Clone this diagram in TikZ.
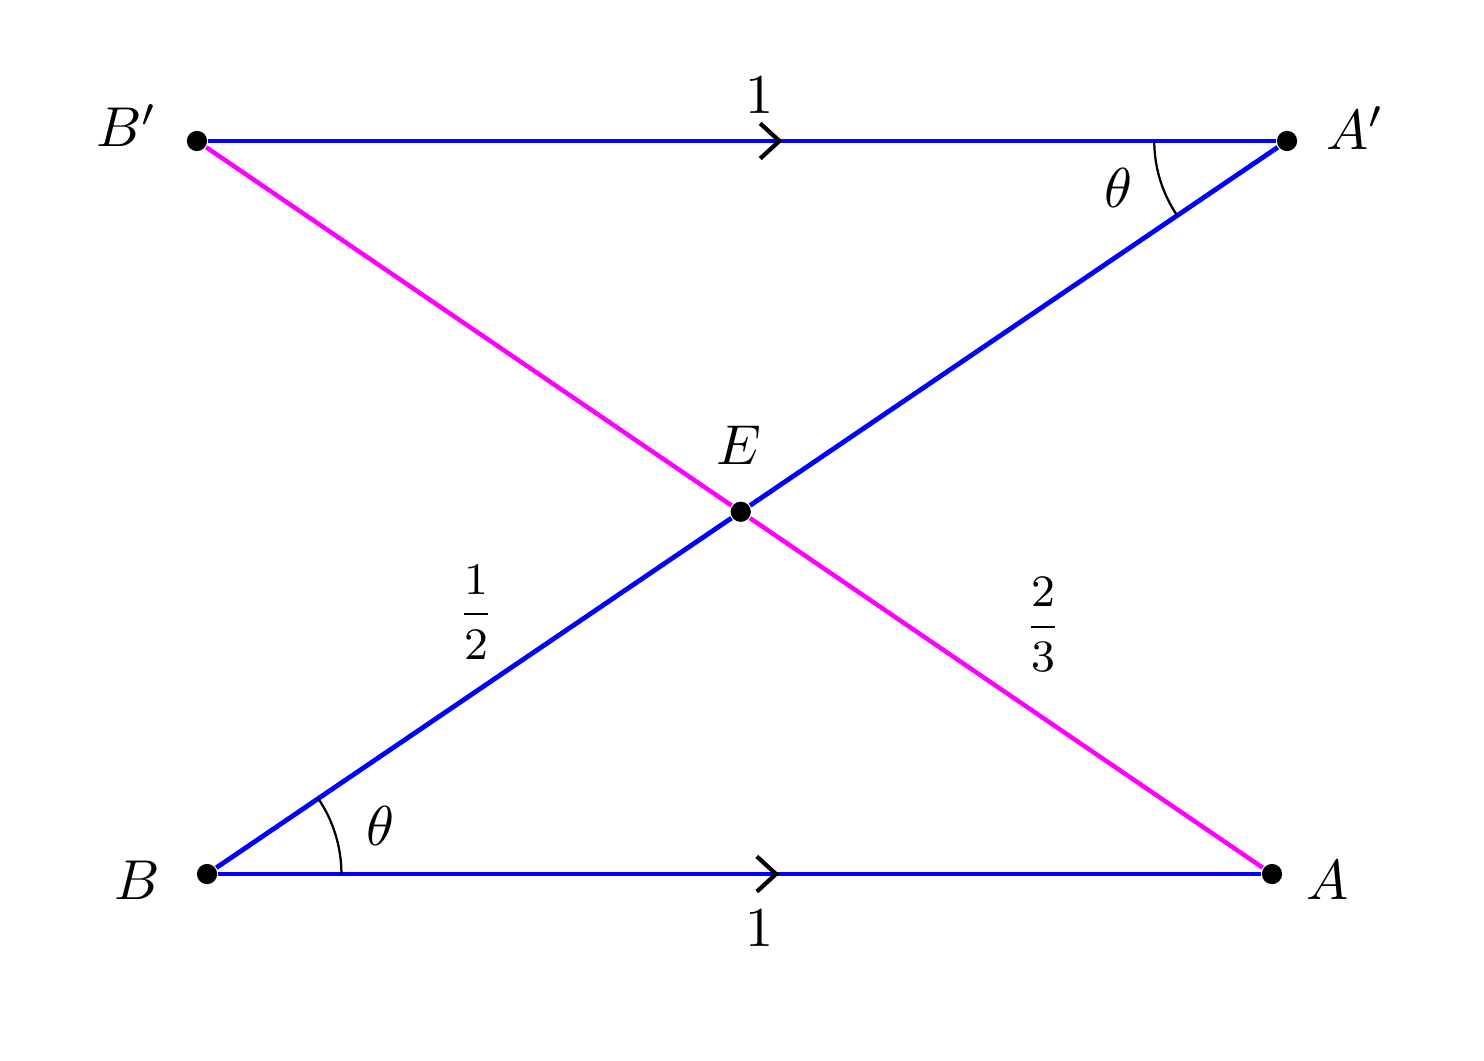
\documentclass[tikz,border=0pt]{standalone}
\usepackage{amsmath}
\usetikzlibrary{angles,decorations.markings}

\definecolor{pureMagenta}{RGB}{255,0,255}
\tikzset{
  seg/.style = {blue, line width = 0.85pt},
  diag/.style = {pureMagenta, line width = 0.8pt},
  dot/.style = {circle, fill = black, inner sep = 0pt, minimum size = 3.6pt},
  chev/.style = {postaction = {decorate}, decoration = {markings,
      mark = at position 0.535 with {\draw[black, line width = 0.75pt] (-0.12, 0.11) -- (0, 0) -- (-0.12, -0.11);}}}
}

\begin{document}
\begin{tikzpicture} [scale = 1]
\useasboundingbox (0, 0) rectangle (9.275, 6.625);
\coordinate (Bp) at (1.231, 5.744);
\coordinate (Ap) at (8.044, 5.744);
\coordinate (B) at (1.294, 1.1625);
\coordinate (A) at (7.95, 1.1625);
\coordinate (E) at (intersection of Bp--A and B--Ap);
\node[dot] (bp) at (Bp) {};
\node[dot] (ap) at (Ap) {};
\node[dot] (b) at (B) {};
\node[dot] (a) at (A) {};
\node[dot] (e) at (E) {};
% the crossing lines
\draw[diag] (bp) -- (e) -- (a);
\draw[seg] (b) -- (e) -- (ap);
\draw[seg, chev] (bp) -- (ap);
\draw[seg, chev] (b) -- (a);
% angles
\pic[draw, black, line width = 0.4pt, angle radius = 0.84cm] {angle = A--B--Ap};
\pic[draw, black, line width = 0.4pt, angle radius = 0.83cm] {angle = Bp--Ap--B};
% labels
\node[black] (lbp) at (0.794, 5.84) {$B'$};
\node[black] (lap) at (8.47, 5.825) {$A'$};
\node[black] (lb) at (0.856, 1.125) {$B$};
\node[black] (la) at (8.3, 1.125) {$A$};
\node[black] (le) at (4.619, 3.84) {$E$};
\node[black] (ltop) at (4.75, 6.03) {$1$};
\node[black] (lbot) at (4.75, 0.825) {$1$};
\node[black] (tha) at (6.99, 5.45) {$\theta$};
\node[black] (thb) at (2.375, 1.4625) {$\theta$};
\node[black, font = \footnotesize] (lhalf) at (2.975, 2.8) {$\dfrac{1}{2}$};
\node[black, font = \footnotesize] (lthird) at (6.519, 2.72) {$\dfrac{2}{3}$};
\end{tikzpicture}
\end{document}
